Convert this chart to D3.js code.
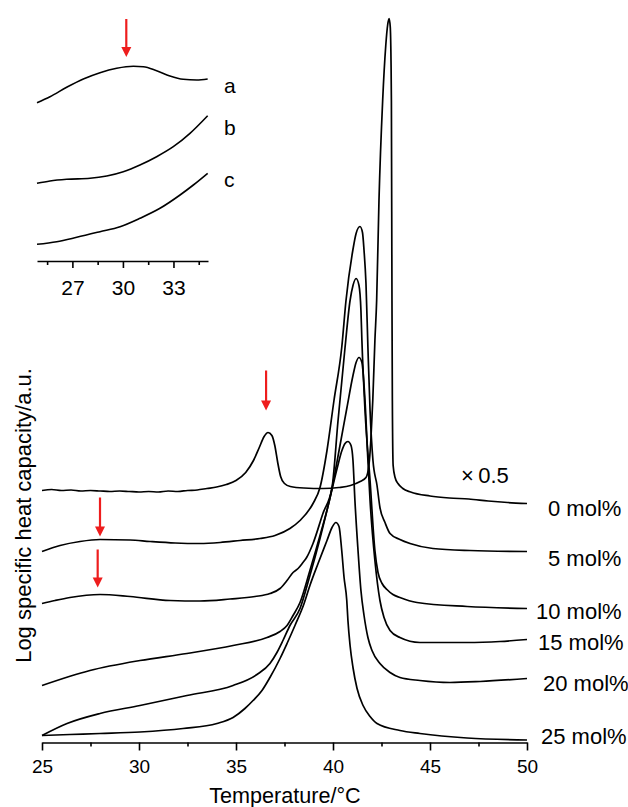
<!DOCTYPE html>
<html>
<head>
<meta charset="utf-8">
<script src="https://cdn.jsdelivr.net/npm/d3@7"></script>
<style>
  html, body { margin: 0; padding: 0; background: #fff; }
  svg { display: block; font-family: "Liberation Sans", Arial, Helvetica, sans-serif; }
</style>
</head>
<body>
<svg id="chart" width="628" height="807"></svg>
<script>
// ---- Data: temperature (°C) and log specific heat capacity (a.u., offset per trace) ----
const seriesNames = ["0 mol%", "5 mol%", "10 mol%", "15 mol%", "20 mol%", "25 mol%"];

const t0 = [25.0, 25.5, 26.0, 26.5, 27.0, 27.5, 28.0, 28.5, 29.0, 29.5, 30.0, 30.5, 31.0, 31.5, 32.0, 32.5, 33.0, 33.5, 34.0, 34.5,
  35.0, 35.5, 35.9, 36.2, 36.45, 36.65, 36.85, 37.0, 37.15, 37.3, 37.5, 37.8, 38.5, 39.5, 40.3, 40.9, 41.4, 41.7, 41.85, 41.95,
  42.05, 42.16, 42.25, 42.37, 42.56, 42.72, 42.82, 42.89, 42.95, 42.99, 43.01, 43.04, 43.06, 43.1, 43.2, 43.35, 43.6, 44.0,
  45.0, 46.0, 47.0, 48.0, 49.0, 50.0];
const c0 = [25.2, 25.3, 25.2, 25.25, 25.15, 25.2, 25.15, 25.1, 25.15, 25.1, 25.05, 25.1, 25.05, 25.15, 25.1, 25.2, 25.25, 25.4, 25.55, 25.8,
  26.2, 27.0, 28.2, 29.5, 30.6, 31.0, 30.7, 29.7, 28.0, 26.6, 25.9, 25.6, 25.45, 25.4, 25.5, 25.7, 26.1, 26.5, 27.7, 30.2,
  34.2, 40.2, 44.2, 54.2, 64.2, 69.7, 71.8, 72.4, 71.6, 68.2, 64.2, 44.2, 34.2, 27.7, 26.5, 25.9, 25.4, 25.05,
  24.65, 24.45, 24.35, 24.15, 24.0, 23.9];

const t5 = [25.0, 25.93, 26.96, 27.99, 29.54, 30.57, 31.86, 33.14, 34.18, 35.21, 36.24, 37.01, 37.78, 38.3, 38.97, 39.33, 39.69, 40.05,
  40.45, 40.67, 41.02, 41.19, 41.39, 41.52, 41.6, 41.7, 41.8, 41.91, 42.06, 42.27, 42.42, 42.68, 42.94, 43.45, 43.97, 45.15, 47.06, 50.0];
const c5 = [19.1, 19.7, 20.1, 20.3, 20.25, 20.1, 19.95, 19.9, 20.0, 20.2, 20.4, 20.7, 21.4, 22.2, 23.9, 25.5, 29.2, 34.2,
  39.5, 44.2, 49.2, 50.9, 51.6, 51.0, 49.2, 45.9, 39.5, 33.2, 28.2, 25.7, 23.5, 22.0, 20.9, 20.3, 19.9, 19.4, 19.2, 19.1];

const t10 = [25.0, 25.67, 26.44, 27.99, 29.54, 31.6, 33.14, 34.69, 35.98, 36.75, 37.27, 37.63, 37.94, 38.2, 38.45, 38.64, 38.97, 39.48,
  39.95, 40.26, 40.62, 40.88, 41.03, 41.19, 41.34, 41.44, 41.49, 41.65, 41.91, 42.16, 42.32, 42.53, 42.78, 43.09, 43.45, 44.33, 46.91, 50.0];
const c10 = [13.9, 14.2, 14.5, 14.8, 14.6, 14.2, 14.15, 14.35, 14.6, 14.9, 15.4, 16.2, 17.0, 17.4, 18.0, 18.5, 19.9, 22.9,
  25.5, 32.2, 39.5, 44.2, 45.7, 46.4, 45.7, 43.2, 40.2, 33.2, 26.2, 19.2, 17.0, 15.9, 15.3, 14.8, 14.5, 14.0, 13.6, 13.4];

const t15 = [25.0, 27.47, 30.05, 32.47, 34.85, 36.6, 37.27, 37.63, 37.94, 38.3, 38.81, 39.33, 39.85, 40.36, 40.72, 41.03, 41.19, 41.34,
  41.49, 41.65, 41.8, 41.91, 42.16, 42.42, 42.63, 42.94, 43.45, 44.48, 46.91, 48.61, 50.0];
const c15 = [5.7, 7.2, 8.2, 8.9, 9.7, 10.5, 11.1, 11.7, 12.7, 14.0, 17.2, 20.7, 24.5, 29.7, 33.5, 36.7, 38.0, 38.5,
  38.0, 34.2, 28.2, 24.2, 18.2, 14.2, 12.5, 11.2, 10.5, 10.0, 10.0, 10.1, 10.3];

const t20 = [25.0, 26.29, 27.99, 30.05, 32.47, 34.85, 36.08, 36.75, 37.11, 37.42, 37.78, 38.3, 38.81, 39.33, 39.85, 40.21, 40.46, 40.62,
  40.77, 40.93, 41.03, 41.13, 41.29, 41.44, 41.6, 41.8, 42.01, 42.42, 42.94, 43.45, 44.48, 46.03, 47.58, 50.0];
const c20 = [0.7, 1.9, 2.9, 3.7, 4.7, 5.7, 6.8, 7.9, 9.0, 10.2, 11.7, 13.4, 16.7, 20.4, 24.5, 27.4, 29.2, 29.9,
  30.1, 29.7, 28.2, 24.2, 19.2, 15.2, 12.7, 10.5, 9.2, 7.9, 7.0, 6.5, 6.2, 6.0, 6.1, 6.4];

const t25 = [25.0, 26.44, 27.99, 30.05, 32.27, 34.02, 34.85, 35.46, 35.88, 36.34, 36.75, 37.27, 37.63, 38.04, 38.51, 38.81, 39.23, 39.69,
  39.95, 40.15, 40.31, 40.45, 40.57, 40.71, 40.77, 40.88, 41.03, 41.24, 41.55, 41.91, 42.27, 43.45, 44.48, 46.91, 50.0];
const c25 = [0.7, 0.8, 0.9, 1.05, 1.4, 1.9, 2.5, 3.4, 4.2, 5.2, 6.5, 8.4, 9.9, 11.7, 13.9, 15.7, 17.9, 20.2,
  21.5, 22.0, 21.6, 19.2, 16.5, 14.2, 12.2, 9.7, 7.5, 5.4, 3.7, 2.6, 1.9, 1.2, 0.9, 0.45, 0.25];

const temps = [t0, t5, t10, t15, t20, t25];
const values = [c0, c5, c10, c15, c20, c25];

// Inset: enlarged low-temperature region, traces a, b, c
const insetNames = ["a", "b", "c"];
const insetTa = [24.9, 25.67, 26.66, 27.65, 28.64, 29.63, 30.62, 31.21, 32.0, 32.79, 33.58, 34.38, 35.03];
const insetCa = [15.83, 16.43, 17.37, 18.2, 18.83, 19.27, 19.47, 19.43, 19.03, 18.5, 18.17, 18.1, 18.2];
const insetTb = [24.9, 25.67, 26.66, 28.05, 29.04, 30.02, 31.01, 32.0, 32.99, 33.98, 35.03];
const insetCb = [7.77, 8.0, 8.17, 8.27, 8.5, 8.93, 9.6, 10.43, 11.43, 12.77, 14.53];
const insetTc = [24.9, 26.07, 27.26, 28.64, 29.83, 31.01, 32.2, 33.39, 34.18, 35.03];
const insetCc = [1.67, 1.93, 2.37, 2.93, 3.43, 4.27, 5.27, 6.6, 7.6, 8.77];
const insetTemps = [insetTa, insetTb, insetTc];
const insetValues = [insetCa, insetCb, insetCc];

// Tick values
const xMajorTicks = [25, 30, 35, 40, 45, 50];
const xMinorTicks = [27.5, 32.5, 37.5, 42.5, 47.5];
const insetMajorTicks = [27, 30, 33];
const insetMinorTicks = [25.5, 28.5, 31.5, 34.5];

// Red arrows marking the small pre-transition peaks: [temperature, tail value, tip value]
const arrowsMain = [[36.55, 37.2, 33.2], [27.99, 24.5, 20.6], [27.87, 19.3, 15.5]];
const arrowsInset = [[30.2, 24.2, 20.4]];

// ---- Layout ----
const svg = d3.select("#chart");
const RED = "#ee1d1d";
const x = d3.scaleLinear().domain([25, 50]).range([42, 527]);
const y = d3.scaleLinear().domain([0, 70]).range([742.5, 42.5]);
const xi = d3.scaleLinear().domain([24.9, 35.05]).range([37, 208]);
const yi = d3.scaleLinear().domain([0, 24]).range([261, 21]);

// label placement next to trace ends (pixels)
const labelLayout = [
  { x: 548, dy: 12 }, { x: 548, dy: 14 }, { x: 536, dy: 10 },
  { x: 538, dy: 10 }, { x: 543, dy: 12 }, { x: 541, dy: 3.5 }
];
const insetLabelLayout = [{ dy: 14 }, { dy: 19 }, { dy: 14 }];

// ---- Main traces ----
const line = d3.line().x(d => x(d[0])).y(d => y(d[1])).curve(d3.curveMonotoneX);
const gLines = svg.append("g");
temps.forEach((ts, i) => {
  const pts = ts.map((t, k) => [t, values[i][k]]);
  gLines.append("path").attr("d", line(pts))
    .attr("fill", "none").attr("stroke", "#000").attr("stroke-width", 1.7)
    .attr("stroke-linejoin", "round");
  const last = pts[pts.length - 1];
  svg.append("text").attr("x", labelLayout[i].x).attr("y", y(last[1]) + labelLayout[i].dy)
    .attr("font-size", 22).attr("fill", "#000").text(seriesNames[i]);
});

// scale factor note on the 0 mol% trace
svg.append("text").attr("x", 461).attr("y", 483).attr("font-size", 22).attr("fill", "#000").text("×\u20090.5");

// ---- Main x axis ----
const axisG = svg.append("g").attr("transform", "translate(0,742.5)");
axisG.call(d3.axisBottom(x).tickValues(xMajorTicks).tickSize(8).tickSizeOuter(0).tickPadding(9).tickFormat(d3.format("d")));
axisG.append("g").call(d3.axisBottom(x).tickValues(xMinorTicks).tickSize(4).tickSizeOuter(0).tickFormat(""))
  .select(".domain").remove();
axisG.selectAll("path, line").attr("stroke", "#000").attr("stroke-width", 1.6);
axisG.selectAll("text").attr("font-size", 19).attr("font-family", "Liberation Sans, Arial, sans-serif").attr("fill", "#000");

svg.append("text").attr("x", 285).attr("y", 803).attr("text-anchor", "middle")
  .attr("font-size", 21.6).attr("fill", "#000").text("Temperature/°C");
svg.append("text").attr("transform", "translate(31,515.5) rotate(-90)").attr("text-anchor", "middle")
  .attr("font-size", 22).attr("fill", "#000").text("Log specific heat capacity/a.u.");

// ---- Arrows ----
function drawArrow(sx, sy, a) {
  const xp = sx(a[0]), y0 = sy(a[1]), y1 = sy(a[2]);
  const head = 10, half = 5;
  svg.append("line").attr("x1", xp).attr("x2", xp).attr("y1", y0).attr("y2", y1 - head + 1)
    .attr("stroke", RED).attr("stroke-width", 2.2);
  svg.append("path").attr("d", `M${xp - half},${y1 - head}L${xp + half},${y1 - head}L${xp},${y1}Z`).attr("fill", RED);
}
arrowsMain.forEach(a => drawArrow(x, y, a));

// ---- Inset ----
const lineI = d3.line().x(d => xi(d[0])).y(d => yi(d[1])).curve(d3.curveMonotoneX);
insetTemps.forEach((ts, i) => {
  const pts = ts.map((t, k) => [t, insetValues[i][k]]);
  svg.append("path").attr("d", lineI(pts))
    .attr("fill", "none").attr("stroke", "#000").attr("stroke-width", 1.6);
  const last = pts[pts.length - 1];
  svg.append("text").attr("x", 224).attr("y", yi(last[1]) + insetLabelLayout[i].dy)
    .attr("font-size", 21).attr("fill", "#000").text(insetNames[i]);
});
const axisI = svg.append("g").attr("transform", "translate(0,261)");
axisI.call(d3.axisBottom(xi).tickValues(insetMajorTicks).tickSize(7).tickSizeOuter(0).tickPadding(12).tickFormat(d3.format("d")));
axisI.append("g").call(d3.axisBottom(xi).tickValues(insetMinorTicks).tickSize(4).tickSizeOuter(0).tickFormat(""))
  .select(".domain").remove();
axisI.selectAll("path, line").attr("stroke", "#000").attr("stroke-width", 1.6);
axisI.selectAll("text").attr("font-size", 21).attr("font-family", "Liberation Sans, Arial, sans-serif").attr("fill", "#000");
arrowsInset.forEach(a => drawArrow(xi, yi, a));
</script>
</body>
</html>
